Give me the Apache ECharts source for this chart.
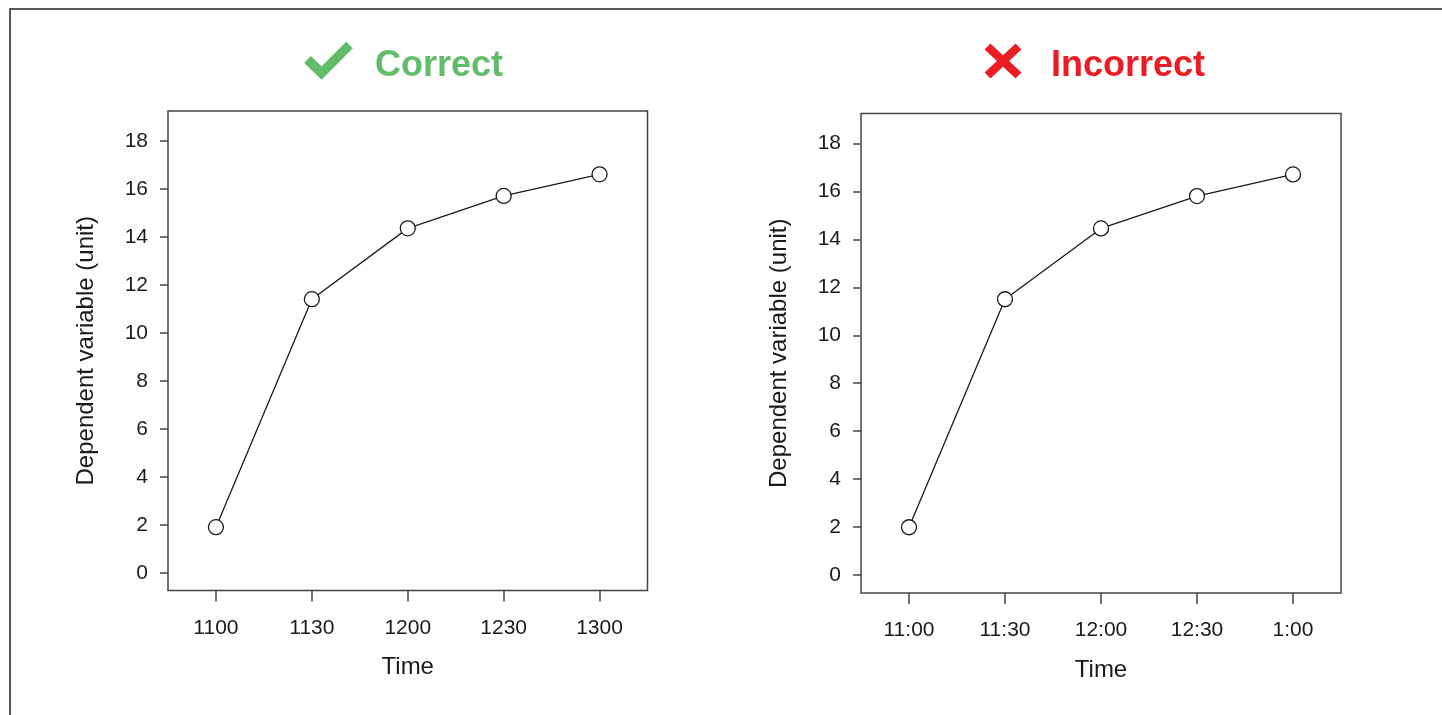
<!DOCTYPE html>
<html>
<head>
<meta charset="utf-8">
<script src="https://cdn.jsdelivr.net/npm/echarts@6/dist/echarts.min.js"></script>
<style>
  html, body { margin: 0; padding: 0; background: #fff; }
  #chart { width: 1442px; height: 715px; }
</style>
</head>
<body>
<div id="chart"></div>
<script>
// Clock labels: 24-hour style on the left, 12-hour style on the right
const timeLabels24 = ['1100', '1130', '1200', '1230', '1300'];
const timeLabels12 = ['11:00', '11:30', '12:00', '12:30', '1:00'];

// Measured values of the dependent variable
const valuesLeft = [1.9, 11.4, 14.35, 15.7, 16.6];
const valuesRight = [2.0, 11.5, 14.45, 15.8, 16.7];

// Y axis ticks
const yTicks = [0, 2, 4, 6, 8, 10, 12, 14, 16, 18];

const yTitle = 'Dependent variable (unit)';
const xTitle = 'Time';

const FONT = '"Liberation Sans", Arial, Helvetica, sans-serif';
const INK = '#1a1a1a';
const FRAME = '#444';
const GREEN = '#62bd6b';
const RED = '#ec1c24';

const chart = echarts.init(document.getElementById('chart'), null, { renderer: 'canvas' });

function xAxisFor(gridIndex, labels) {
  return {
    type: 'category',
    gridIndex,
    position: 'bottom',
    data: labels,
    boundaryGap: true,
    name: xTitle,
    nameLocation: 'middle',
    nameGap: 65,
    nameTextStyle: { fontFamily: FONT, fontSize: 24, color: INK },
    axisLine: { show: false, onZero: false },
    axisTick: { show: true, inside: false, alignWithLabel: true, length: 11, lineStyle: { color: FRAME, width: 1.5 } },
    axisLabel: { fontFamily: FONT, fontSize: 21, color: INK, margin: 27 },
    splitLine: { show: false }
  };
}

function yAxisFor(gridIndex) {
  return {
    type: 'value',
    gridIndex,
    position: 'left',
    min: -0.74,
    max: 19.24,
    name: yTitle,
    nameLocation: 'middle',
    nameGap: 70,
    nameTextStyle: { fontFamily: FONT, fontSize: 24, color: INK },
    axisLine: { show: false, onZero: false },
    axisTick: { show: true, inside: false, length: 8, customValues: yTicks, lineStyle: { color: FRAME, width: 1.5 } },
    axisLabel: { fontFamily: FONT, fontSize: 21, color: INK, margin: 20, customValues: yTicks },
    splitLine: { show: false }
  };
}

function seriesFor(index, values) {
  return {
    type: 'line',
    xAxisIndex: index,
    yAxisIndex: index,
    data: values,
    symbol: 'circle',
    symbolSize: 15,
    showSymbol: true,
    lineStyle: { color: INK, width: 1.3 },
    itemStyle: { color: '#fff', borderColor: INK, borderWidth: 1.3 },
    emphasis: { disabled: true },
    z: 3
  };
}

const option = {
  backgroundColor: '#fff',
  animation: false,
  grid: [
    { left: 168, top: 111, width: 479.5, height: 479.5, show: true, borderColor: FRAME, borderWidth: 1.5, backgroundColor: 'transparent' },
    { left: 861, top: 113.5, width: 480, height: 479.5, show: true, borderColor: FRAME, borderWidth: 1.5, backgroundColor: 'transparent' }
  ],
  xAxis: [xAxisFor(0, timeLabels24), xAxisFor(1, timeLabels12)],
  yAxis: [yAxisFor(0), yAxisFor(1)],
  series: [seriesFor(0, valuesLeft), seriesFor(1, valuesRight)],
  graphic: [
    // outer frame
    { type: 'rect', shape: { x: 10, y: 9, width: 1600, height: 900 }, style: { fill: 'none', stroke: '#222', lineWidth: 1.5 }, silent: true },
    // check mark + heading
    { type: 'polyline', shape: { points: [[307.5, 59.5], [321.5, 73], [349.5, 45]] },
      style: { stroke: GREEN, lineWidth: 9.5, fill: 'none', lineJoin: 'miter', lineCap: 'butt' }, silent: true },
    { type: 'text', x: 375, y: 66.5, style: { text: 'Correct', fontFamily: FONT, fontWeight: 'bold', fontSize: 36, fill: GREEN, align: 'left', verticalAlign: 'middle' }, silent: true },
    // cross + heading
    { type: 'line', shape: { x1: 987.5, y1: 46.5, x2: 1018.5, y2: 75.5 },
      style: { stroke: RED, lineWidth: 8.5, lineCap: 'butt' }, silent: true },
    { type: 'line', shape: { x1: 1018.5, y1: 46.5, x2: 987.5, y2: 75.5 },
      style: { stroke: RED, lineWidth: 8.5, lineCap: 'butt' }, silent: true },
    { type: 'text', x: 1051, y: 66.5, style: { text: 'Incorrect', fontFamily: FONT, fontWeight: 'bold', fontSize: 36, fill: RED, align: 'left', verticalAlign: 'middle' }, silent: true }
  ]
};

chart.setOption(option);
</script>
</body>
</html>
